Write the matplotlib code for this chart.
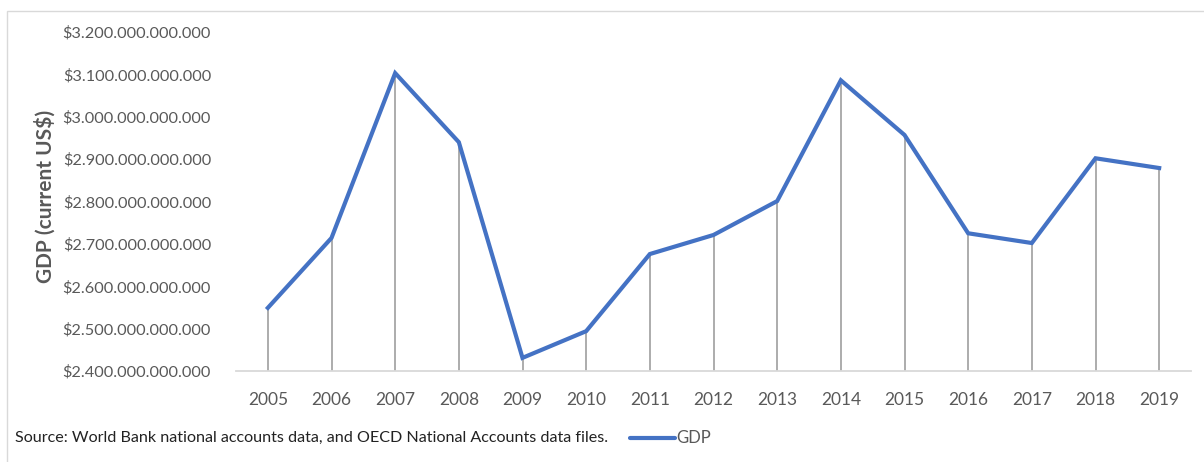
import matplotlib
matplotlib.use("Agg")
import matplotlib.pyplot as plt
from matplotlib.patches import Rectangle
from matplotlib.lines import Line2D
from matplotlib.ticker import FuncFormatter, MultipleLocator

years = ["2005", "2006", "2007", "2008", "2009", "2010", "2011", "2012",
         "2013", "2014", "2015", "2016", "2017", "2018", "2019"]
gdp = [2.549e12, 2.714e12, 3.103e12, 2.940e12, 2.431e12, 2.494e12, 2.676e12,
       2.721e12, 2.801e12, 3.086e12, 2.957e12, 2.725e12, 2.702e12, 2.902e12,
       2.879e12]
series_name = "GDP"
y_title = "GDP (current US$)"
source_note = "Source: World Bank national accounts data, and OECD National Accounts data files."

plt.rcParams["font.family"] = ["Lato", "DejaVu Sans"]

W, H = 1204, 462
fig = plt.figure(figsize=(W / 100, H / 100), dpi=100)
fig.patch.set_facecolor("white")

# outer chart border
fig.patches.append(Rectangle((7 / W, -0.1), 1.2, (H - 11) / H + 0.1,
                             transform=fig.transFigure, fill=False,
                             edgecolor="#d9d9d9", lw=1.0))

ax = fig.add_axes([236 / W, 91 / H, (1191 - 236) / W, (371 - 32) / H])
x = list(range(len(years)))
ax.vlines(x, 2.4e12, gdp, color="#a6a6a6", lw=1.3, zorder=2)
ax.plot(x, gdp, color="#4472C4", lw=3.0, zorder=3, solid_joinstyle="miter")

ax.set_xlim(-0.5, len(years) - 0.5)
ax.set_ylim(2.4e12, 3.2e12)
ax.yaxis.set_major_locator(MultipleLocator(1e11))
ax.yaxis.set_major_formatter(FuncFormatter(lambda v, p: "$" + f"{v:,.0f}".replace(",", ".")))
ax.set_xticks(x)
ax.set_xticklabels(years)

for s in ["top", "right", "left"]:
    ax.spines[s].set_visible(False)
ax.spines["bottom"].set_color("#d9d9d9")
ax.spines["bottom"].set_linewidth(1.3)
ax.tick_params(axis="both", length=0, labelcolor="#595959")
ax.tick_params(axis="y", pad=18, labelsize=11.7)
ax.tick_params(axis="x", pad=15, labelsize=12.5)

fig.text(45 / W, 1 - 196 / H, y_title, rotation=90, ha="center", va="center",
         fontsize=15, fontweight="bold", color="#595959")

fig.text(15 / W, 1 - 438 / H, source_note, ha="left", va="center",
         fontsize=11.6, color="#222222")
fig.lines.append(Line2D([630 / W, 675 / W], [1 - 438 / H, 1 - 438 / H],
                        transform=fig.transFigure, color="#4472C4", lw=3.0,
                        solid_capstyle="round"))
fig.text(676 / W, 1 - 438 / H, series_name, ha="left", va="center",
         fontsize=12, color="#595959")

fig.savefig("out.png", dpi=100, facecolor="white")
